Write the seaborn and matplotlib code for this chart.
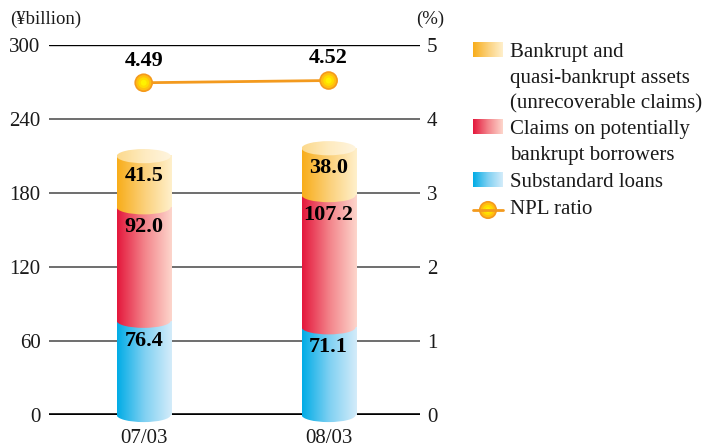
import numpy as np
import pandas as pd
import matplotlib
matplotlib.use("Agg")
import matplotlib.pyplot as plt
import seaborn as sns
from matplotlib.patches import Ellipse, Rectangle
from matplotlib.colors import LinearSegmentedColormap

# ---- data -------------------------------------------------------------
periods = ["07/03", "08/03"]
substandard = [76.4, 71.1]
claims_potential = [92.0, 107.2]
bankrupt_quasi = [41.5, 38.0]
npl_ratio = [4.49, 4.52]
left_ticks = [0, 60, 120, 180, 240, 300]
right_ticks = [0, 1, 2, 3, 4, 5]

series_names = ["Substandard loans",
                "Claims on potentially\nbankrupt borrowers",
                "Bankrupt and\nquasi-bankrupt assets\n(unrecoverable claims)"]
series_values = [substandard, claims_potential, bankrupt_quasi]
line_name = "NPL ratio"

# ---- styles -----------------------------------------------------------
cmaps = [
    LinearSegmentedColormap.from_list("blue", ["#00ace6", "#7fd0f2", "#d4ecfa"]),
    LinearSegmentedColormap.from_list("red", ["#e4173c", "#f3838a", "#fdd6cc"]),
    LinearSegmentedColormap.from_list("yellow", ["#f8ad1a", "#fbd07a", "#fff0cc"]),
]
cap_cmap = LinearSegmentedColormap.from_list("cap", ["#fcd98c", "#feebc0", "#fff5e0"])
line_color = "#f39a1e"
text_color = "#1a1a1a"
GRAD = np.linspace(0, 1, 256).reshape(1, -1)

sns.set_theme(style="white")
plt.rcParams["font.family"] = ["Liberation Serif", "DejaVu Serif"]

W, H = 705, 447
fig = plt.figure(figsize=(W / 100, H / 100), dpi=100, facecolor="white")
ax = fig.add_axes([49 / W, 1 - 415 / H, (420 - 49) / W, 370 / H])
ax.set_facecolor("none")

BAR_W = 0.292
ELL_H = 11.5  # vertical size of the cylinder ellipses, in ¥billion


def shade(target, shape, cmap, x0, x1, y0, y1, z):
    """Fill a shape with a horizontal colour gradient."""
    shape.set_facecolor("none")
    shape.set_edgecolor("none")
    shape.set_zorder(z)
    target.add_patch(shape)
    im = target.imshow(GRAD, cmap=cmap, extent=(x0, x1, y0, y1), aspect="auto",
                       origin="lower", interpolation="bilinear", zorder=z)
    im.set_clip_path(shape)
    im.set_clip_box(fig.bbox)
    return im


# ---- stacked cylinders ------------------------------------------------
bottoms = np.zeros(len(periods))
for k, (name, vals) in enumerate(zip(series_names, series_values)):
    n_before = len(ax.patches)
    df = pd.DataFrame({"period": periods, "value": vals})
    sns.barplot(data=df, x="period", y="value", bottom=bottoms, width=BAR_W,
                color="white", ax=ax, zorder=2 + k)
    bars = ax.patches[n_before:]
    for rect, v in zip(bars, vals):
        x0, w = rect.get_x(), rect.get_width()
        y0, h = rect.get_y(), rect.get_height()
        x1 = x0 + w
        rect.set_visible(False)
        z = 2 + k
        shade(ax, Rectangle((x0, y0), w, h), cmaps[k], x0, x1, y0, y0 + h, z)
        shade(ax, Ellipse((x0 + w / 2, y0), w, ELL_H), cmaps[k], x0, x1,
              y0 - ELL_H, y0 + ELL_H, z)
        ax.annotate(f"{v:.1f}", xy=(x0 + w / 2, y0 + h), xytext=(0, -14.5),
                    textcoords="offset points", ha="center", va="center",
                    fontsize=16, fontweight="bold", color="black", zorder=10)
    bottoms = bottoms + np.array(vals)

# light top caps
for xc, total in zip(range(len(periods)), bottoms):
    x0 = xc - BAR_W / 2
    shade(ax, Ellipse((xc, total), BAR_W, ELL_H), cap_cmap, x0, x0 + BAR_W,
          total - ELL_H, total + ELL_H, 6)

# ---- horizontal rules -------------------------------------------------
for t in left_ticks:
    if t == left_ticks[0]:
        ax.axhline(t, color="black", lw=2.6, zorder=1)
    elif t == left_ticks[-1]:
        ax.axhline(t, color="black", lw=1.0, zorder=1)
    else:
        ax.axhline(t, color="#555555", lw=1.2, zorder=1)

ax.set_xlim(-0.512, 1.494)
ax.set_ylim(left_ticks[0], left_ticks[-1])
ax.set_yticks(left_ticks)
ax.set_yticklabels([str(t) for t in left_ticks])
ax.set_xticks(range(len(periods)))
ax.set_xticklabels(periods)
ax.set_xlabel("")
ax.set_ylabel("")
ax.tick_params(axis="y", length=0, pad=6, labelsize=15, labelcolor=text_color)
ax.tick_params(axis="x", length=0, pad=10, labelsize=15, labelcolor=text_color)
for s in ax.spines.values():
    s.set_visible(False)

# ---- NPL ratio on the right axis -------------------------------------
ax2 = ax.twinx()
xs = np.arange(len(periods))
sns.lineplot(x=xs, y=npl_ratio, ax=ax2, color=line_color, lw=2.0, zorder=3)
for s, c in zip([180, 120, 60, 18], ["#f59a1c", "#ffbf10", "#ffdc00", "#fff200"]):
    ax2.scatter(xs, npl_ratio, s=s, color=c, edgecolor="none", zorder=4)
for x, v in zip(xs, npl_ratio):
    ax2.annotate(f"{v:.2f}", xy=(x, v), xytext=(0, 16), textcoords="offset points",
                 ha="center", va="center", fontsize=16, fontweight="bold",
                 color="black")
ax2.set_ylim(right_ticks[0], right_ticks[-1])
ax2.set_yticks(right_ticks)
ax2.set_yticklabels([str(t) for t in right_ticks])
ax2.set_xlim(ax.get_xlim())
ax2.set_ylabel("")
ax2.tick_params(axis="y", length=0, pad=5, labelsize=15, labelcolor=text_color)
ax2.grid(False)
for s in ax2.spines.values():
    s.set_visible(False)

# unit captions
fig.text(10 / W, 1 - 19 / H, "(¥billion)", fontsize=13.5, color=text_color,
         ha="left", va="center")
fig.text(416 / W, 1 - 19 / H, "(%)", fontsize=13.5, color=text_color,
         ha="left", va="center")

# ---- legend -----------------------------------------------------------
lg = fig.add_axes([0, 0, 1, 1], zorder=20)
lg.set_facecolor("none")
lg.axis("off")

entries = [
    (2, ["Bankrupt and", "quasi-bankrupt assets", "(unrecoverable claims)"], 42),
    (1, ["Claims on potentially", "bankrupt borrowers"], 119),
    (0, ["Substandard loans"], 172),
]
for idx, lines, top in entries:
    lg.imshow(GRAD, cmap=cmaps[idx], extent=(473, 503, top + 15, top),
              aspect="auto", interpolation="bilinear")
    for j, line in enumerate(lines):
        lg.text(510, top + 15 + j * 25.8, line, fontsize=15, color=text_color,
                ha="left", va="baseline")

lg.plot([473, 503], [210, 210], color=line_color, lw=2.0)
for s, c in zip([170, 110, 55, 16], ["#f59a1c", "#ffbf10", "#ffdc00", "#fff200"]):
    lg.scatter([488], [210], s=s, color=c, edgecolor="none")
lg.text(510, 214, line_name, fontsize=15, color=text_color, ha="left", va="baseline")

lg.set_xlim(0, W)
lg.set_ylim(H, 0)

fig.savefig("out.png", dpi=100, facecolor="white")
